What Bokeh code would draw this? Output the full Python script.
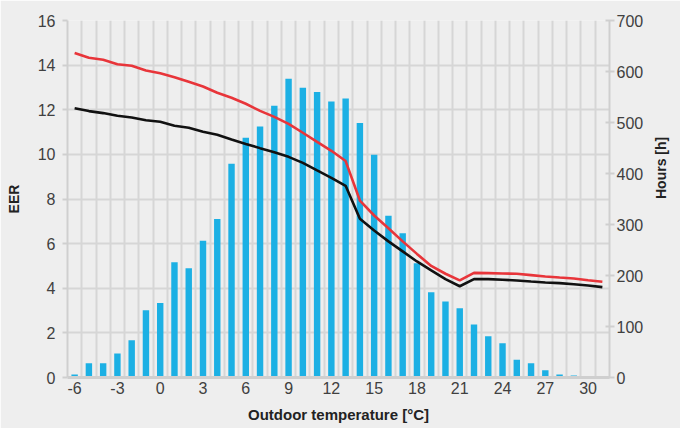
import math
from bokeh.plotting import figure
from bokeh.models import Range1d, LinearAxis, FixedTicker
from bokeh.embed import file_html
from bokeh.resources import INLINE

# ---- data ----
temps = [-6, -5, -4, -3, -2, -1, 0, 1, 2, 3, 4, 5, 6, 7, 8, 9, 10, 11, 12, 13,
         14, 15, 16, 17, 18, 19, 20, 21, 22, 23, 24, 25, 26, 27, 28, 29, 30, 31]
hours = [6, 28, 28, 47, 73, 132, 146, 226, 214, 268, 311, 419, 470, 492, 533, 586,
         568, 560, 541, 547, 499, 437, 317, 283, 224, 167, 149, 136, 104, 81, 67,
         35, 28, 14, 6, 4, 2, 2]
eer_red = [14.54, 14.33, 14.24, 14.04, 13.97, 13.76, 13.64, 13.46, 13.25, 13.04,
           12.76, 12.54, 12.27, 11.95, 11.68, 11.37, 10.97, 10.56, 10.16, 9.70,
           7.93, 7.26, 6.69, 6.10, 5.54, 5.00, 4.65, 4.35, 4.69, 4.68, 4.66, 4.65,
           4.59, 4.53, 4.48, 4.44, 4.36, 4.29]
eer_black = [12.07, 11.94, 11.85, 11.73, 11.65, 11.53, 11.46, 11.28, 11.19, 11.01,
             10.88, 10.67, 10.47, 10.28, 10.10, 9.89, 9.62, 9.28, 8.95, 8.59,
             7.11, 6.59, 6.10, 5.65, 5.20, 4.80, 4.41, 4.09, 4.41, 4.41, 4.38, 4.35,
             4.30, 4.26, 4.23, 4.18, 4.12, 4.05]
x_ticks = [-6, -3, 0, 3, 6, 9, 12, 15, 18, 21, 24, 27, 30]
eer_ticks = [0, 2, 4, 6, 8, 10, 12, 14, 16]
hour_ticks = [0, 100, 200, 300, 400, 500, 600, 700]

BG = "#eeeeee"
GRID = "#d6d6d6"
AXIS = "#cfcfcf"
TXT = "#404040"
FONT = "Liberation Sans"

p = figure(width=680, height=428, output_backend="svg", toolbar_location=None,
           x_range=Range1d(temps[0] - 0.5, temps[-1] + 0.5),
           y_range=Range1d(eer_ticks[0], eer_ticks[-1]),
           min_border_left=67, min_border_right=66,
           min_border_top=20, min_border_bottom=51)
p.extra_y_ranges = {"hours": Range1d(hour_ticks[0], hour_ticks[-1])}
p.background_fill_color = BG
p.border_fill_color = BG
p.outline_line_color = None

# grid
p.xgrid.ticker = FixedTicker(ticks=[t - 0.5 for t in temps] + [temps[-1] + 0.5])
p.xgrid.grid_line_color = GRID
p.xgrid.grid_line_width = 2
p.ygrid.ticker = FixedTicker(ticks=eer_ticks)
p.ygrid.grid_line_color = GRID
p.ygrid.grid_line_width = 2

# bars (hours, right axis)
p.vbar(x=temps, top=hours, width=0.45, bottom=0, color="#1cb0e4",
       line_color=None, y_range_name="hours")

# EER lines
p.line(temps, eer_red, line_color="#e8353a", line_width=2.6)
p.line(temps, eer_black, line_color="#111111", line_width=2.6)

# left axis
ly = p.yaxis[0]
ly.ticker = FixedTicker(ticks=eer_ticks)
ly.axis_label = "EER"
ly.axis_label_text_font = FONT
ly.axis_label_text_font_style = "bold"
ly.axis_label_text_font_size = "14px"
ly.axis_label_text_color = "#222222"
ly.axis_label_standoff = 13
ly.major_label_text_font = FONT
ly.major_label_text_font_size = "16px"
ly.major_label_text_color = TXT
ly.major_label_standoff = 7
ly.major_tick_out = 5
ly.major_tick_in = 0
ly.minor_tick_out = 0
ly.minor_tick_in = 0
ly.major_tick_line_color = AXIS
ly.major_tick_line_width = 2
ly.axis_line_color = AXIS
ly.axis_line_width = 2

# right axis
ry = LinearAxis(y_range_name="hours", ticker=FixedTicker(ticks=hour_ticks))
ry.axis_label = "Hours [h]"
ry.axis_label_orientation = math.pi / 2
ry.axis_label_text_font = FONT
ry.axis_label_text_font_style = "bold"
ry.axis_label_text_font_size = "14px"
ry.axis_label_text_color = "#222222"
ry.axis_label_standoff = 15
ry.major_label_text_font = FONT
ry.major_label_text_font_size = "16px"
ry.major_label_text_color = TXT
ry.major_label_standoff = 2
ry.major_tick_out = 5
ry.major_tick_in = 4
ry.minor_tick_out = 0
ry.minor_tick_in = 0
ry.major_tick_line_color = AXIS
ry.major_tick_line_width = 2
ry.axis_line_color = AXIS
ry.axis_line_width = 2
p.add_layout(ry, "right")

# x axis
xa = p.xaxis[0]
xa.ticker = FixedTicker(ticks=x_ticks)
xa.major_label_overrides = {t: str(t) for t in x_ticks}
xa.axis_label = "Outdoor temperature [°C]"
xa.axis_label_text_font = FONT
xa.axis_label_text_font_style = "bold"
xa.axis_label_text_font_size = "15px"
xa.axis_label_text_color = "#222222"
xa.axis_label_standoff = 9
xa.major_label_text_font = FONT
xa.major_label_text_font_size = "16px"
xa.major_label_text_color = TXT
xa.major_label_standoff = 4
xa.major_tick_out = 0
xa.major_tick_in = 0
xa.minor_tick_out = 0
xa.minor_tick_in = 0
xa.axis_line_color = AXIS
xa.axis_line_width = 3

open("out.html", "w").write(file_html(p, INLINE))
